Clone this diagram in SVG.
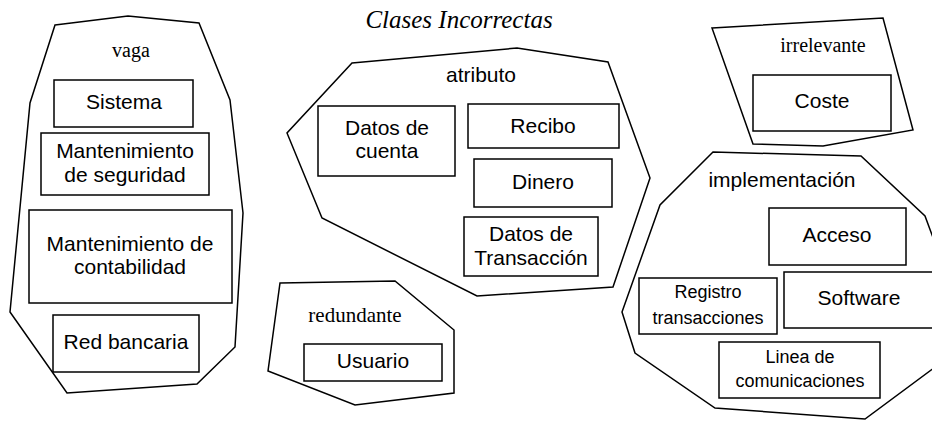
<svg xmlns="http://www.w3.org/2000/svg" width="932" height="421" viewBox="0 0 932 421">
<style>
.grp{fill:none;stroke:#000;stroke-width:1.5;stroke-linejoin:miter}
.box{fill:none;stroke:#000;stroke-width:1.5}
.t{font-family:"Liberation Sans",Arial,sans-serif;font-size:21px;fill:#000;text-anchor:middle}
.ts{font-family:"Liberation Sans",Arial,sans-serif;font-size:18px;fill:#000;text-anchor:middle}
.lab{font-family:"Liberation Serif","Times New Roman",serif;font-size:20px;fill:#000;text-anchor:middle}
.title{font-family:"Liberation Serif","Times New Roman",serif;font-size:25px;font-style:italic;fill:#000;text-anchor:middle}
</style>
<rect width="932" height="421" fill="#fff"/>
<text class="title" x="459" y="28">Clases Incorrectas</text>

<g id="vaga">
<polygon class="grp" points="55,25 128,16 199,23 230,100 243,213 235,347 197,384 67,393 10,312 30,103"/>
<text class="lab" x="131" y="57">vaga</text>
<g id="sistema"><rect class="box" x="54" y="80" width="139" height="47"/><text class="t" x="124" y="109">Sistema</text></g>
<g id="mant-seguridad"><rect class="box" x="41" y="133" width="168" height="62"/><text class="t" x="125" y="158">Mantenimiento</text><text class="t" x="125" y="182">de seguridad</text></g>
<g id="mant-contabilidad"><rect class="box" x="29" y="210" width="203" height="93"/><text class="t" x="130" y="251">Mantenimiento de</text><text class="t" x="130" y="274">contabilidad</text></g>
<g id="red-bancaria"><rect class="box" x="53" y="315" width="146" height="57"/><text class="t" x="126" y="349">Red bancaria</text></g>
</g>

<g id="atributo">
<polygon class="grp" points="352,63 517,48 608,62 650,178 613,287 477,296 322,218 287,133"/>
<text class="t" x="481" y="82">atributo</text>
<g id="datos-cuenta"><rect class="box" x="318" y="106" width="137" height="70"/><text class="t" x="387" y="135">Datos de</text><text class="t" x="387" y="158">cuenta</text></g>
<g id="recibo"><rect class="box" x="468" y="104" width="151" height="44"/><text class="t" x="543" y="133">Recibo</text></g>
<g id="dinero"><rect class="box" x="474" y="159" width="138" height="48"/><text class="t" x="543" y="189">Dinero</text></g>
<g id="datos-transaccion"><rect class="box" x="464" y="217" width="134" height="59"/><text class="t" x="531" y="241">Datos de</text><text class="t" x="531" y="265">Transacción</text></g>
</g>

<g id="redundante">
<polygon class="grp" points="280,283 395,281 454,330 454,393 355,405 268,371"/>
<text class="lab" x="355" y="322" style="font-size:21px">redundante</text>
<g id="usuario"><rect class="box" x="304" y="344" width="138" height="37"/><text class="t" x="373" y="368">Usuario</text></g>
</g>

<g id="irrelevante">
<polygon class="grp" points="712,28 883,18 913,130 823,146 753,144"/>
<text class="lab" x="823" y="52">irrelevante</text>
<g id="coste"><rect class="box" x="753" y="75" width="138" height="56"/><text class="t" x="822" y="108">Coste</text></g>
</g>

<g id="implementacion">
<polygon class="grp" points="713,152 861,156 925,216 942,262 942,362 865,419 715,408 635,353 622,312 660,205"/>
<text class="t" x="782" y="187">implementación</text>
<g id="acceso"><rect class="box" x="769" y="208" width="137" height="57"/><text class="t" x="837" y="242">Acceso</text></g>
<g id="software"><rect class="box" x="784" y="272" width="160" height="56"/><text class="t" x="859" y="305">Software</text></g>
<g id="registro"><rect class="box" x="639" y="278" width="138" height="56"/><text class="ts" x="708" y="298">Registro</text><text class="ts" x="708" y="324">transacciones</text></g>
<g id="linea"><rect class="box" x="719" y="342" width="161" height="56"/><text class="ts" x="800" y="363">Linea de</text><text class="ts" x="800" y="387">comunicaciones</text></g>
</g>

<g id="connectors"></g>
</svg>
